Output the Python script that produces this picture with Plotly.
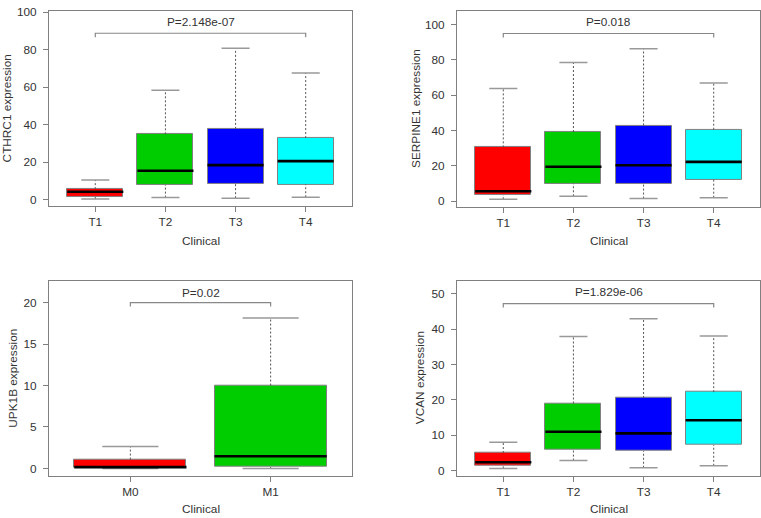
import plotly.graph_objects as go

# ---------------- data ----------------
t_groups = ["T1", "T2", "T3", "T4"]
m_groups = ["M0", "M1"]
t_colors = ["#FF0000", "#00CD00", "#0000FF", "#00FFFF"]
m_colors = ["#FF0000", "#00CD00"]

cthrc1_lower = [0.5, 1.2, 0.9, 1.4]
cthrc1_q1 = [1.6, 8.0, 8.5, 8.2]
cthrc1_median = [4.3, 15.5, 18.5, 20.6]
cthrc1_q3 = [5.7, 34.9, 37.8, 32.9]
cthrc1_upper = [10.6, 58.4, 80.7, 67.6]
cthrc1_p = "P=2.148e-07"
cthrc1_bracket = 88.7

serpine1_lower = [1.1, 2.8, 1.5, 2.0]
serpine1_q1 = [3.5, 9.9, 10.0, 12.3]
serpine1_median = [5.6, 19.5, 20.4, 22.3]
serpine1_q3 = [30.5, 39.2, 42.9, 40.5]
serpine1_upper = [63.8, 78.6, 86.4, 66.9]
serpine1_p = "P=0.018"
serpine1_bracket = 95.0

upk1b_lower = [0.0, 0.0]
upk1b_q1 = [0.04, 0.16]
upk1b_median = [0.16, 1.46]
upk1b_q3 = [1.07, 10.0]
upk1b_upper = [2.65, 18.14]
upk1b_p = "P=0.02"
upk1b_bracket = 20.0

vcan_lower = [0.65, 2.87, 0.83, 1.39]
vcan_q1 = [1.39, 5.83, 5.56, 7.3]
vcan_median = [2.4, 11.0, 10.56, 14.26]
vcan_q3 = [5.0, 19.0, 20.56, 22.2]
vcan_upper = [8.06, 37.96, 42.96, 38.06]
vcan_p = "P=1.829e-06"
vcan_bracket = 47.2

# ---------------- layout settings ----------------
W, H = 761, 518
FONT = "Liberation Sans, Arial, Helvetica, sans-serif"
FS = 11.8
TXT = "#333333"
GREY = "#808080"

panels = [
    dict(gene="CTHRC1", groups=t_groups, colors=t_colors, lower=cthrc1_lower, q1=cthrc1_q1,
         med=cthrc1_median, q3=cthrc1_q3, upper=cthrc1_upper, p=cthrc1_p, br=cthrc1_bracket,
         px=(49, 352), py=(5, 203), yr=(-3.2, 100.6), dtick=20, ymax=100, ptext_y=94.8,
         ytitle_x=7, xlab_y=239),
    dict(gene="SERPINE1", groups=t_groups, colors=t_colors, lower=serpine1_lower, q1=serpine1_q1,
         med=serpine1_median, q3=serpine1_q3, upper=serpine1_upper, p=serpine1_p, br=serpine1_bracket,
         px=(457, 760), py=(5, 204), yr=(-3.2, 107.8), dtick=20, ymax=100, ptext_y=101.7,
         ytitle_x=416, xlab_y=239),
    dict(gene="UPK1B", groups=m_groups, colors=m_colors, lower=upk1b_lower, q1=upk1b_q1,
         med=upk1b_median, q3=upk1b_q3, upper=upk1b_upper, p=upk1b_p, br=upk1b_bracket,
         px=(49, 352), py=(279, 477), yr=(-0.87, 22.65), dtick=5, ymax=20, ptext_y=21.2,
         ytitle_x=13.5, xlab_y=511),
    dict(gene="VCAN", groups=t_groups, colors=t_colors, lower=vcan_lower, q1=vcan_q1,
         med=vcan_median, q3=vcan_q3, upper=vcan_upper, p=vcan_p, br=vcan_bracket,
         px=(457, 760), py=(279, 477), yr=(-1.39, 53.7), dtick=10, ymax=50, ptext_y=50.4,
         ytitle_x=420, xlab_y=511),
]

fig = go.Figure()
annotations = []
layout_axes = {}

for i, pn in enumerate(panels, start=1):
    xa = "x" if i == 1 else f"x{i}"
    ya = "y" if i == 1 else f"y{i}"
    n = len(pn["groups"])
    pos = list(range(1, n + 1))
    half = 0.4
    cap = 0.2
    span = pn["yr"][1] - pn["yr"][0]

    # boxes
    fig.add_trace(go.Bar(
        x=pos, y=[b - a for a, b in zip(pn["q1"], pn["q3"])], base=pn["q1"], width=0.8,
        marker=dict(color=pn["colors"], line=dict(color=GREY, width=1)),
        xaxis=xa, yaxis=ya, showlegend=False, hoverinfo="skip"))

    # whiskers (dashed)
    wx, wy = [], []
    for p, lo, a, b, hi in zip(pos, pn["lower"], pn["q1"], pn["q3"], pn["upper"]):
        wx += [p, p, None, p, p, None]
        wy += [b, hi, None, lo, a, None]
    fig.add_trace(go.Scatter(x=wx, y=wy, mode="lines", line=dict(color="#555555", width=1, dash="2px,2px"),
                             xaxis=xa, yaxis=ya, showlegend=False, hoverinfo="skip"))

    # staples
    sx, sy = [], []
    for p, lo, hi in zip(pos, pn["lower"], pn["upper"]):
        sx += [p - cap, p + cap, None, p - cap, p + cap, None]
        sy += [hi, hi, None, lo, lo, None]
    fig.add_trace(go.Scatter(x=sx, y=sy, mode="lines", line=dict(color="#999999", width=1.5),
                             xaxis=xa, yaxis=ya, showlegend=False, hoverinfo="skip"))

    # medians
    mx, my = [], []
    for p, m in zip(pos, pn["med"]):
        mx += [p - half, p + half, None]
        my += [m, m, None]
    fig.add_trace(go.Scatter(x=mx, y=my, mode="lines", line=dict(color="#000000", width=2.6),
                             xaxis=xa, yaxis=ya, showlegend=False, hoverinfo="skip"))

    # bracket
    drop = 0.02 * span
    fig.add_trace(go.Scatter(x=[1, 1, n, n], y=[pn["br"] - drop, pn["br"], pn["br"], pn["br"] - drop],
                             mode="lines", line=dict(color="#888888", width=1.2),
                             xaxis=xa, yaxis=ya, showlegend=False, hoverinfo="skip"))

    annotations.append(dict(x=(1 + n) / 2, y=pn["ptext_y"], xref=xa, yref=ya, text=pn["p"],
                            showarrow=False, font=dict(family=FONT, size=FS, color=TXT)))

    xd = [pn["px"][0] / W, pn["px"][1] / W]
    yd = [1 - pn["py"][1] / H, 1 - pn["py"][0] / H]
    xr = [0.5 - 0.04 * n, n + 0.5 + 0.04 * n]
    yt = list(range(0, pn["ymax"] + 1, pn["dtick"]))

    common = dict(showline=True, linecolor=GREY, linewidth=1, mirror=True, ticks="outside",
                  ticklen=5, tickcolor=GREY, tickwidth=1, showgrid=False, zeroline=False,
                  ticklabeloverflow="allow",
                  tickfont=dict(family=FONT, size=FS, color=TXT))
    layout_axes["xaxis" if i == 1 else f"xaxis{i}"] = dict(
        domain=xd, range=xr, tickvals=pos, ticktext=pn["groups"], anchor=ya,
        ticklabelstandoff=0, **common)
    layout_axes["yaxis" if i == 1 else f"yaxis{i}"] = dict(
        domain=yd, range=list(pn["yr"]), tickvals=yt, ticktext=[str(v) for v in yt], anchor=xa,
        ticklabelstandoff=4, **common)

    # axis titles
    annotations.append(dict(x=pn["ytitle_x"] / W, y=1 - (pn["py"][0] + pn["py"][1]) / 2 / H,
                            xref="paper", yref="paper", text=f"{pn['gene']} expression",
                            textangle=-90, showarrow=False, xanchor="center", yanchor="middle",
                            font=dict(family=FONT, size=FS, color=TXT)))
    annotations.append(dict(x=(pn["px"][0] + pn["px"][1]) / 2 / W, y=1 - pn["xlab_y"] / H,
                            xref="paper", yref="paper", text="Clinical", showarrow=False,
                            xanchor="center", yanchor="middle",
                            font=dict(family=FONT, size=FS, color=TXT)))

fig.update_layout(
    width=W, height=H, margin=dict(l=0, r=0, t=0, b=0),
    paper_bgcolor="white", plot_bgcolor="white",
    annotations=annotations, bargap=0, **layout_axes)

fig.write_html("out.html", config={"displayModeBar": False},
               post_script="document.body.style.margin='0px';document.body.style.overflow='hidden';")
